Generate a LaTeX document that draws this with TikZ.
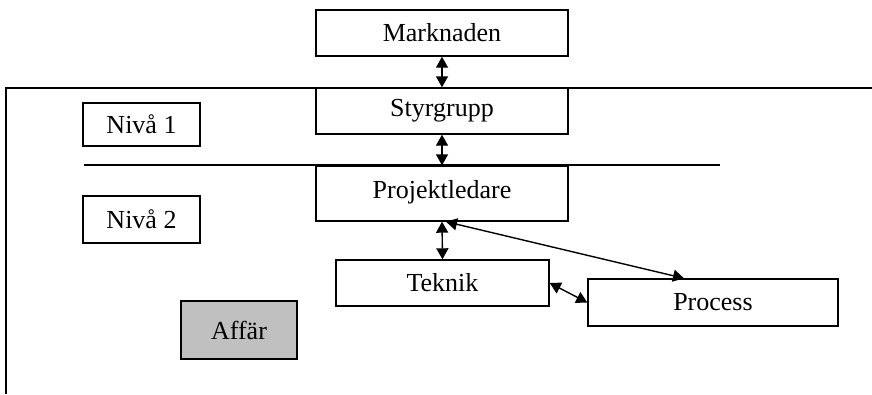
\documentclass[tikz,border=0pt]{standalone}
\usepackage{fontspec}
\setmainfont{Liberation Serif}
\usetikzlibrary{arrows.meta}
\begin{document}
\begin{tikzpicture}[x=1pt,y=-1pt,line width=1.4pt,
  box/.style={draw,rectangle,inner sep=0pt,font=\fontsize{26}{30}\selectfont},
  dbl/.style={{Triangle[width=12pt,length=11pt]}-{Triangle[width=12pt,length=11pt]},line width=1.4pt}]
\useasboundingbox (0,0) rectangle (872,394);
% frame lines
\coordinate (tl) at (6,88);
\coordinate (tr) at (872,88);
\coordinate (bl) at (6,394);
\draw (tr) -- (tl) -- (bl);
\coordinate (ml) at (84,165);
\coordinate (mr) at (720,165);
\draw (ml) -- (mr);
% boxes
\node[box,minimum width=252pt,minimum height=46pt] (mark) at (442,33) {Marknaden};
\node[box,minimum width=252pt,minimum height=46pt] (styr) at (442,111) {Styrgrupp};
\node[box,minimum width=252pt,minimum height=55pt] (proj) at (442,193.5) {\raisebox{8pt}{Projektledare}};
\node[box,minimum width=117pt,minimum height=43pt] (n1) at (141.5,124.5) {Nivå 1};
\node[box,minimum width=117pt,minimum height=47pt] (n2) at (141.5,219.5) {Nivå 2};
\node[box,fill={rgb,255:red,192;green,192;blue,192},minimum width=116pt,minimum height=58pt] (aff) at (239,330) {Affär};
\node[box,minimum width=213pt,minimum height=46pt] (tek) at (442.5,283) {Teknik};
\node[box,minimum width=250pt,minimum height=47pt] (proc) at (713,302.5) {Process};
% connectors
\draw[dbl] (mark.south) -- (styr.north);
\draw[dbl] (styr.south) -- (proj.north);
\draw[dbl] (proj.south) -- (tek.north);
\draw[dbl] ([xshift=4pt]proj.south) -- ([xshift=-29pt]proc.north);
\draw[dbl] (tek.east) -- (proc.west);
\end{tikzpicture}
\end{document}
